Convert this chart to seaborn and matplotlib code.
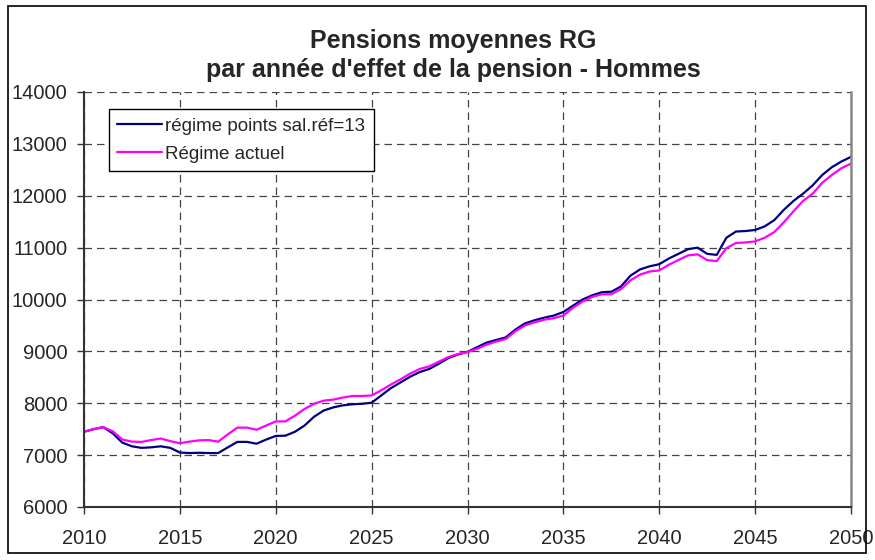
import numpy as np
import pandas as pd
import matplotlib
matplotlib.use("Agg")
import matplotlib.pyplot as plt
from matplotlib.patches import Rectangle
import seaborn as sns

# semi-annual points, 2010 -> 2050
years = np.arange(2010, 2050.5, 0.5)

points_ref13 = [
    7450, 7500, 7540, 7420, 7240, 7170, 7140, 7150, 7170, 7140,
    7050, 7040, 7045, 7040, 7040, 7150, 7255, 7255, 7220, 7300,
    7370, 7375, 7450, 7570, 7740, 7860, 7920, 7960, 7980, 7990,
    8010, 8150, 8290, 8400, 8510, 8600, 8660, 8760, 8870, 8940,
    8990, 9080, 9170, 9220, 9270, 9420, 9540, 9600, 9650, 9690,
    9760, 9880, 10000, 10080, 10140, 10150, 10250, 10460, 10580, 10640,
    10680, 10790, 10880, 10970, 11000, 10880, 10860, 11190, 11310, 11320,
    11340, 11410, 11530, 11730, 11900, 12040, 12200, 12400, 12550, 12660,
    12750,
]
actuel = [
    7450, 7500, 7540, 7460, 7300, 7260, 7255, 7290, 7320, 7270,
    7230, 7260, 7285, 7290, 7260, 7400, 7530, 7530, 7490, 7570,
    7650, 7650, 7760, 7890, 7990, 8050, 8070, 8110, 8140, 8140,
    8150, 8250, 8360, 8460, 8570, 8660, 8710, 8800, 8890, 8950,
    8985, 9050, 9130, 9190, 9240, 9390, 9500, 9560, 9610, 9640,
    9690, 9840, 9960, 10050, 10100, 10100, 10200, 10370, 10480, 10540,
    10560, 10670, 10760, 10850, 10870, 10760, 10740, 10990, 11090, 11100,
    11120, 11190, 11300, 11490, 11700, 11900, 12040, 12250, 12400, 12530,
    12620,
]

series_names = ["régime points sal.réf=13", "Régime actuel"]
series_colors = ["#000080", "#FF00FF"]
x_ticks = list(range(2010, 2051, 5))
y_ticks = list(range(6000, 14001, 1000))

df = pd.concat([
    pd.DataFrame({"annee": years, "pension": points_ref13, "serie": series_names[0]}),
    pd.DataFrame({"annee": years, "pension": actuel, "serie": series_names[1]}),
])

sns.set_style("white")
plt.rcParams["font.family"] = ["Liberation Sans", "DejaVu Sans"]

fig = plt.figure(figsize=(8.75, 5.6), dpi=100)
ax = fig.add_axes([84 / 875, 1 - 507 / 560, (851 - 84) / 875, (507 - 92) / 560])

sns.lineplot(data=df, x="annee", y="pension", hue="serie",
             palette=dict(zip(series_names, series_colors)),
             linewidth=1.6, ax=ax, legend=False)

ax.set_xlim(2010, 2050)
ax.set_ylim(6000, 14000)
ax.set_xticks(x_ticks)
ax.set_yticks(y_ticks)
ax.set_xlabel("")
ax.set_ylabel("")
ax.tick_params(axis="both", labelsize=14.5, length=5, width=1,
               color="#333333", direction="out")
ax.tick_params(axis="x", pad=11, bottom=True)
ax.tick_params(axis="y", pad=7, left=True)

ax.grid(True, color="#444444", linestyle=(0, (6, 4)), linewidth=0.9)
ax.set_axisbelow(True)

for side in ["left", "bottom"]:
    ax.spines[side].set_color("#333333")
    ax.spines[side].set_linewidth(1.5)
ax.spines["right"].set_color("#888888")
ax.spines["right"].set_linewidth(1.8)
ax.spines["top"].set_visible(False)

handles = [plt.Line2D([], [], color=c, linewidth=1.6) for c in series_colors]
leg = ax.legend(handles, series_names, loc="upper left",
                bbox_to_anchor=((109 - 84) / 767, 1 - (109 - 92) / 415),
                fontsize=13.5, frameon=True, fancybox=False, framealpha=1,
                edgecolor="black", handlelength=2.4, handletextpad=0.15,
                borderpad=0.45, labelspacing=0.6, borderaxespad=0)
leg.get_frame().set_linewidth(1.0)

fig.text(0.518, 1 - 41 / 560, "Pensions moyennes RG", ha="center", va="center",
         fontsize=18, fontweight="bold")
fig.text(0.518, 1 - 70 / 560, "par année d'effet de la pension - Hommes",
         ha="center", va="center", fontsize=18, fontweight="bold")

fig.patches.append(Rectangle((8 / 875, 1 - 553 / 560), (866 - 8) / 875, (553 - 6) / 560,
                             transform=fig.transFigure, fill=False,
                             edgecolor="black", linewidth=1.2))

fig.savefig("out.png", dpi=100)
